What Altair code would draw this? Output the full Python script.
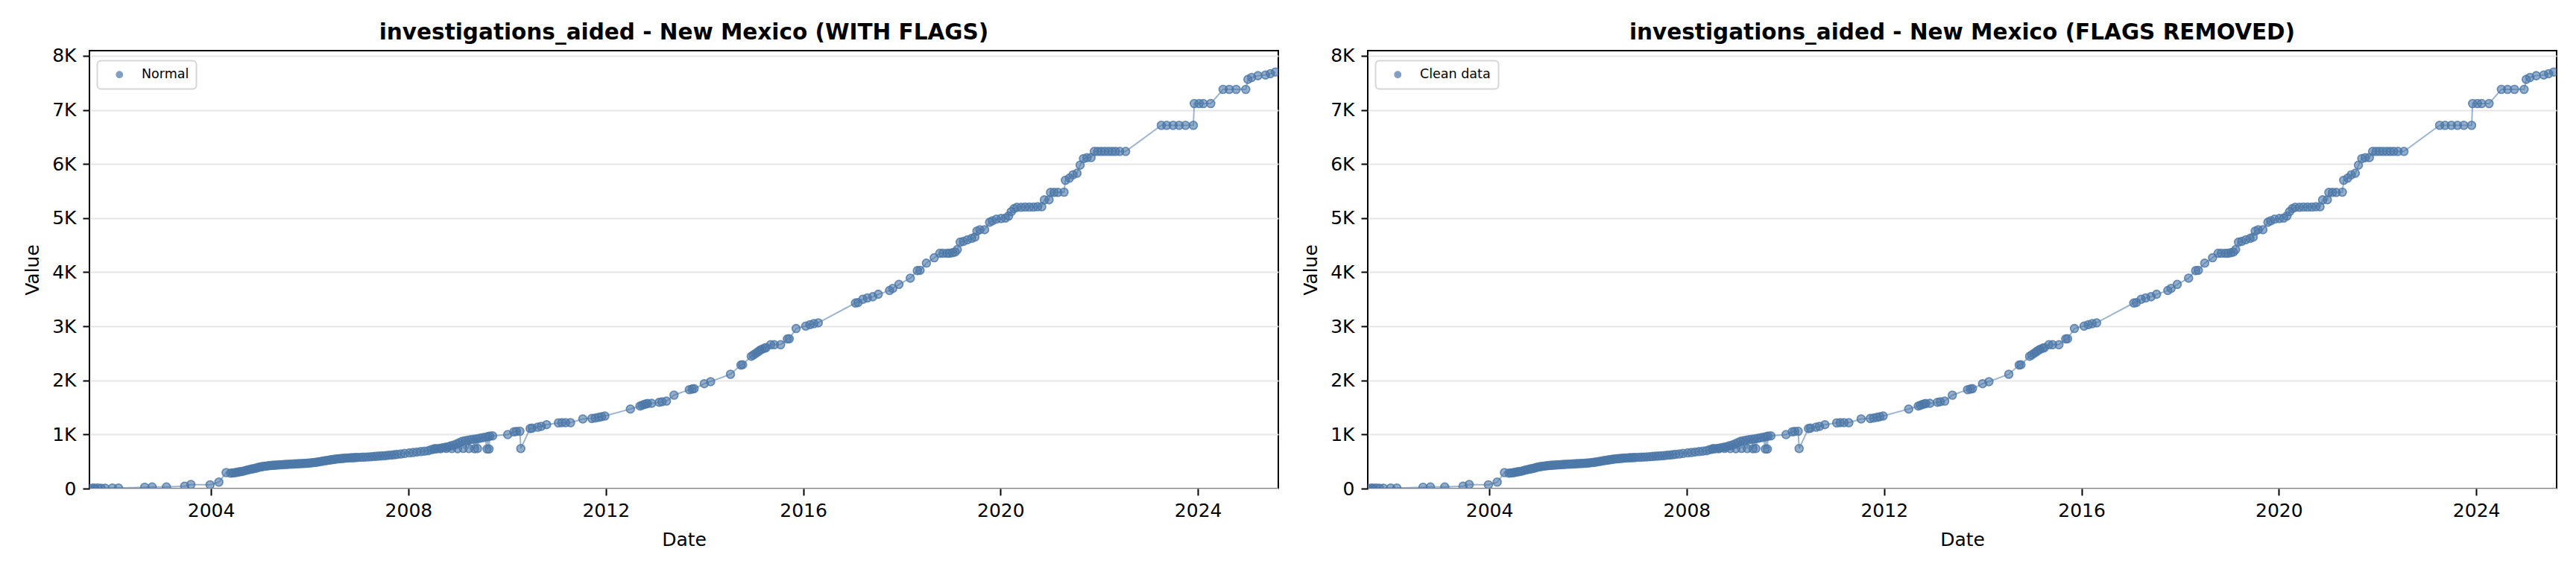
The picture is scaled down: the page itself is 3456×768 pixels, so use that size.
import altair as alt
import pandas as pd

# ---- data (cumulative count) ----
dates = [
    "2001-07-20", "2001-08-10", "2001-08-25", "2001-09-15", "2001-10-10", "2001-11-08", "2002-01-01", "2002-02-15",
    "2002-08-28", "2002-10-22", "2003-02-05", "2003-06-20", "2003-08-05", "2003-12-25", "2004-02-28", "2004-04-22",
    "2004-05-25", "2004-06-08", "2004-06-22", "2004-07-06", "2004-07-20", "2004-08-03", "2004-08-17", "2004-08-31",
    "2004-09-14", "2004-09-28", "2004-10-12", "2004-10-26", "2004-11-09", "2004-11-23", "2004-12-07", "2004-12-21",
    "2005-01-04", "2005-01-18", "2005-02-01", "2005-02-15", "2005-03-01", "2005-03-15", "2005-03-29", "2005-04-12",
    "2005-04-26", "2005-05-10", "2005-05-24", "2005-06-07", "2005-06-21", "2005-07-05", "2005-07-19", "2005-08-02",
    "2005-08-16", "2005-08-30", "2005-09-13", "2005-09-27", "2005-10-11", "2005-10-25", "2005-11-08", "2005-11-22",
    "2005-12-06", "2005-12-20", "2006-01-03", "2006-01-17", "2006-01-31", "2006-02-14", "2006-02-28", "2006-03-14",
    "2006-03-28", "2006-04-11", "2006-04-25", "2006-05-09", "2006-05-23", "2006-06-06", "2006-06-20", "2006-07-04",
    "2006-07-18", "2006-08-01", "2006-08-15", "2006-08-29", "2006-09-12", "2006-09-26", "2006-10-10", "2006-10-24",
    "2006-11-07", "2006-11-21", "2006-12-05", "2006-12-19", "2007-01-09", "2007-01-30", "2007-02-20", "2007-03-13",
    "2007-04-03", "2007-04-24", "2007-05-15", "2007-06-05", "2007-06-26", "2007-07-17", "2007-08-07", "2007-08-28",
    "2007-09-18", "2007-10-09", "2007-11-06", "2007-12-04", "2008-01-08", "2008-02-05", "2008-03-04", "2008-04-01",
    "2008-04-29", "2008-05-27", "2008-06-17", "2008-07-08", "2008-07-15", "2008-07-29", "2008-08-19", "2008-08-26",
    "2008-09-09", "2008-09-30", "2008-10-07", "2008-10-21", "2008-11-11", "2008-11-18", "2008-12-02", "2008-12-23",
    "2008-12-30", "2009-01-13", "2009-02-03", "2009-02-10", "2009-02-24", "2009-03-17", "2009-03-24", "2009-04-07",
    "2009-04-28", "2009-05-05", "2009-05-19", "2009-05-26", "2009-06-09", "2009-06-30", "2009-07-21", "2009-08-05",
    "2009-08-11", "2009-08-20", "2009-08-25", "2009-09-15", "2010-01-05", "2010-02-20", "2010-03-10", "2010-04-05",
    "2010-04-12", "2010-06-20", "2010-07-05", "2010-08-15", "2010-09-10", "2010-10-20", "2011-01-15", "2011-02-10",
    "2011-03-10", "2011-04-15", "2011-07-15", "2011-09-20", "2011-10-15", "2011-11-10", "2011-12-01", "2011-12-25",
    "2012-07-01", "2012-09-10", "2012-09-25", "2012-10-10", "2012-10-25", "2012-11-05", "2012-12-05", "2013-01-30",
    "2013-02-20", "2013-03-25", "2013-05-20", "2013-09-10", "2013-10-01", "2013-10-16", "2013-12-30", "2014-02-15",
    "2014-07-12", "2014-09-27", "2014-10-10", "2014-12-13", "2014-12-28", "2015-01-15", "2015-02-01", "2015-02-15",
    "2015-03-01", "2015-03-20", "2015-04-01", "2015-05-05", "2015-06-01", "2015-07-18", "2015-09-06", "2015-09-20",
    "2015-11-10", "2016-01-20", "2016-02-20", "2016-03-20", "2016-04-22", "2017-01-22", "2017-02-10", "2017-03-18",
    "2017-04-20", "2017-05-30", "2017-07-10", "2017-10-01", "2017-10-25", "2017-12-10", "2018-03-04", "2018-04-25",
    "2018-05-15", "2018-07-01", "2018-08-28", "2018-10-08", "2018-11-01", "2018-12-01", "2018-12-20", "2019-01-10",
    "2019-01-30", "2019-02-15", "2019-03-08", "2019-04-01", "2019-05-01", "2019-06-01", "2019-06-25", "2019-07-10",
    "2019-08-01", "2019-09-05", "2019-10-12", "2019-11-01", "2019-12-01", "2020-01-05", "2020-02-06", "2020-03-01",
    "2020-03-20", "2020-04-10", "2020-05-01", "2020-06-01", "2020-07-01", "2020-08-01", "2020-09-01", "2020-10-01",
    "2020-11-01", "2020-11-20", "2020-12-25", "2021-01-05", "2021-02-01", "2021-03-01", "2021-04-15", "2021-04-25",
    "2021-05-25", "2021-06-20", "2021-07-20", "2021-08-12", "2021-09-06", "2021-10-01", "2021-11-01", "2021-11-25",
    "2021-12-20", "2022-01-15", "2022-02-10", "2022-03-10", "2022-04-05", "2022-05-01", "2022-06-01", "2022-07-15",
    "2023-04-05", "2023-05-15", "2023-07-01", "2023-08-15", "2023-10-01", "2023-11-28", "2023-12-05", "2024-01-10",
    "2024-02-10", "2024-04-05", "2024-07-05", "2024-08-20", "2024-10-10", "2024-12-20", "2025-01-05", "2025-02-01",
    "2025-03-20", "2025-05-15", "2025-06-20", "2025-07-27",
]
values = [
    0, 10, 5, 10, 5, 8, 10, 10,
    25, 30, 30, 45, 75, 70, 120, 296,
    285, 290, 292, 300, 305, 312, 318, 325,
    335, 345, 352, 360, 368, 375, 385, 395,
    402, 408, 414, 418, 422, 426, 429, 432,
    435, 437, 440, 442, 444, 446, 448, 450,
    452, 454, 456, 458, 460, 462, 464, 466,
    468, 470, 473, 477, 481, 486, 491, 497,
    503, 509, 515, 521, 527, 532, 537, 542,
    546, 550, 554, 557, 560, 563, 566, 568,
    570, 572, 574, 576, 578, 580, 583, 586,
    590, 594, 598, 602, 606, 610, 615, 620,
    626, 633, 640, 650, 660, 668, 676, 684,
    692, 700, 720, 728, 740, 735, 745, 738,
    755, 765, 742, 775, 790, 740, 805, 825,
    738, 850, 875, 742, 885, 895, 740, 905,
    912, 738, 920, 740, 930, 940, 950, 732,
    960, 732, 970, 975, 998, 1050, 1058, 1060,
    740, 1110, 1118, 1136, 1150, 1182, 1215, 1220,
    1219, 1218, 1288, 1296, 1305, 1318, 1330, 1343,
    1471, 1526, 1540, 1555, 1565, 1572, 1575, 1595,
    1605, 1618, 1728, 1829, 1840, 1847, 1939, 1977,
    2114, 2284, 2290, 2445, 2470, 2500, 2530, 2555,
    2575, 2595, 2605, 2660, 2660, 2660, 2766, 2770,
    2959, 3004, 3030, 3050, 3065, 3431, 3440, 3500,
    3525, 3547, 3592, 3661, 3700, 3775, 3891, 4029,
    4035, 4167, 4267, 4350, 4350, 4350, 4350, 4360,
    4373, 4419, 4556, 4570, 4600, 4625, 4648, 4760,
    4786, 4786, 4924, 4950, 4980, 4993, 5000, 5040,
    5120, 5176, 5200, 5200, 5205, 5205, 5205, 5210,
    5210, 5337, 5340, 5475, 5475, 5475, 5480, 5700,
    5740, 5800, 5830, 5980, 6100, 6117, 6120, 6233,
    6233, 6233, 6233, 6233, 6233, 6233, 6233, 6233,
    6715, 6715, 6715, 6715, 6715, 6715, 7118, 7118,
    7118, 7118, 7380, 7380, 7380, 7380, 7564, 7600,
    7633, 7646, 7670, 7701,
]
assert len(dates) == len(values)

panel_titles = [
    "investigations_aided - New Mexico (WITH FLAGS)",
    "investigations_aided - New Mexico (FLAGS REMOVED)",
]
legend_labels = ["Normal", "Clean data"]
x_tick_years = [2004, 2008, 2012, 2016, 2020, 2024]
y_ticks = [0, 1000, 2000, 3000, 4000, 5000, 6000, 7000, 8000]

BLUE = "#4c78a8"
FONT = "DejaVu Sans"


def panel(title, label):
    d = pd.DataFrame({"date": dates, "value": values, "series": label})
    x = alt.X(
        "date:T",
        title="Date",
        scale=alt.Scale(domain=[alt.DateTime(year=2001, month=7, date=15),
                                alt.DateTime(year=2025, month=8, date=18)]),
        axis=alt.Axis(
            values=[alt.DateTime(year=y, month=1, date=1) for y in x_tick_years],
            format="%Y", grid=False, domain=False,
            tickSize=9, tickWidth=2, tickColor="black",
            labelFont=FONT, labelFontSize=25, labelColor="black", labelPadding=8.5,
            labelFlush=False, labelOverlap=False,
            titleFont=FONT, titleFontSize=25, titleFontWeight="normal",
            titleColor="black", titlePadding=14,
        ),
    )
    y = alt.Y(
        "value:Q",
        title="Value",
        scale=alt.Scale(domain=[0, 8096], nice=False),
        axis=alt.Axis(
            values=y_ticks,
            labelExpr="datum.value == 0 ? '0' : (datum.value / 1000) + 'K'",
            grid=True, gridColor="#e6e6e6", gridWidth=2, domain=False,
            tickSize=9, tickWidth=2, tickColor="black",
            labelFont=FONT, labelFontSize=25, labelColor="black", labelPadding=9,
            labelFlush=False,
            minExtent=50, maxExtent=50,
            titleFont=FONT, titleFontSize=25, titleFontWeight="normal",
            titleColor="black", titlePadding=14,
        ),
    )
    line = alt.Chart(d).mark_line(
        color=BLUE, opacity=0.55, strokeWidth=2, clip=True
    ).encode(x=x, y=y)
    pts = alt.Chart(d).mark_circle(
        size=115, opacity=1, fillOpacity=0.6, stroke=BLUE, strokeWidth=1.8,
        strokeOpacity=0.8, clip=True
    ).encode(
        x=x, y=y,
        color=alt.Color(
            "series:N",
            scale=alt.Scale(domain=[label], range=[BLUE]),
            legend=alt.Legend(
                title=None, orient="none", legendX=10.5, legendY=13.4,
                padding=10, cornerRadius=5, fillColor="white",
                strokeColor="#d6d6d6", symbolType="circle", symbolSize=70,
                symbolOffset=11, symbolOpacity=0.7, labelOffset=21,
                labelFont=FONT, labelFontSize=17.5, labelColor="black",
            ),
        ),
    )
    return alt.layer(line, pts).properties(
        width=1595, height=588,
        title=alt.TitleParams(
            text=title, font=FONT, fontSize=29.5, fontWeight="bold",
            color="black", anchor="middle", frame="group",
            baseline="alphabetic", offset=-20,
        ),
    )


chart = (
    alt.hconcat(panel(panel_titles[0], legend_labels[0]),
                panel(panel_titles[1], legend_labels[1]),
                spacing=29)
    .resolve_scale(color="independent")
    .resolve_legend(color="independent")
    .properties(padding={"left": 22, "top": 20, "right": 5, "bottom": 5})
    .configure_view(stroke="black", strokeWidth=2)
    .configure_legend(strokeWidth=2)
)

chart.save("out.html", embed_options={"renderer": "svg", "actions": False})
